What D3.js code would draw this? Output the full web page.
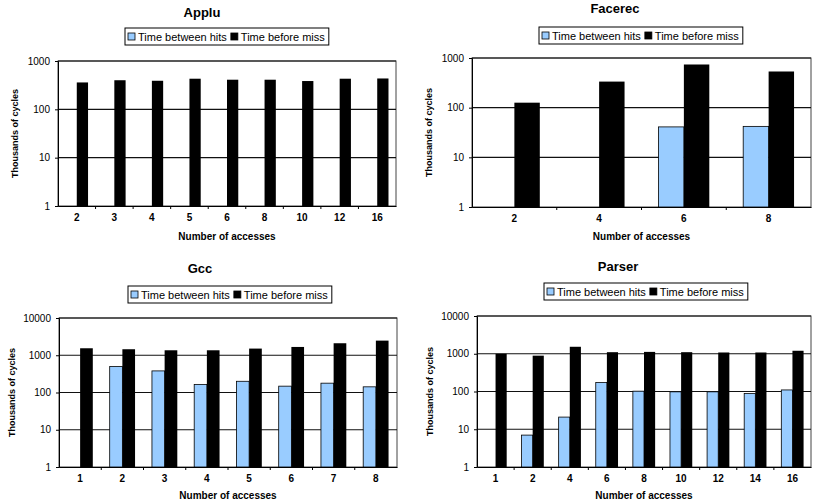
<!DOCTYPE html>
<html>
<head>
<meta charset="utf-8">
<script src="https://cdn.jsdelivr.net/npm/d3@7"></script>
<style>
  body { margin: 0; background: #fff; }
  svg { display: block; font-family: "Liberation Sans", Arial, sans-serif; }
</style>
</head>
<body>
<div id="chart"></div>
<script>
// data (thousands of cycles, log scale); null = no bar
var seriesNames = ["Time between hits", "Time before miss"]

var appluCats = ["2", "3", "4", "5", "6", "8", "10", "12", "16"]
var appluHits = [null, null, null, null, null, null, null, null, null]
var appluMiss = [360, 400, 390, 430, 410, 410, 385, 430, 435]

var facerecCats = ["2", "4", "6", "8"]
var facerecHits = [null, null, 41, 42]
var facerecMiss = [126, 335, 740, 535]

var gccCats = ["1", "2", "3", "4", "5", "6", "7", "8"]
var gccHits = [null, 500, 380, 165, 200, 148, 178, 142]
var gccMiss = [1540, 1450, 1360, 1360, 1510, 1670, 2100, 2470]

var parserCats = ["1", "2", "4", "6", "8", "10", "12", "14", "16"]
var parserHits = [null, 7, 21, 173, 102, 98, 98, 88, 110]
var parserMiss = [1000, 890, 1530, 1100, 1120, 1100, 1080, 1080, 1200]

var appluTicks = [1, 10, 100, 1000]
var facerecTicks = [1, 10, 100, 1000]
var gccTicks = [1, 10, 100, 1000, 10000]
var parserTicks = [1, 10, 100, 1000, 10000]

var hitColor = "#99ccff"
var missColor = "#000"

var svg = d3.select("#chart").append("svg")
    .attr("width", 813)
    .attr("height", 501)

function drawPanel(title, cats, hits, miss, ticks, L) {
    var g = svg.append("g")

    var x = d3.scaleBand()
        .domain(cats)
        .range([L.left, L.right])
        .padding(0)

    var x1 = d3.scaleBand()
        .domain(["hits", "miss"])
        .range([x.bandwidth() * 0.2, x.bandwidth() * 0.8])

    var y = d3.scaleLog()
        .domain([ticks[0], ticks[ticks.length - 1]])
        .range([L.bottom, L.top])

    // frame
    g.append("rect")
        .attr("x", L.left).attr("y", L.top)
        .attr("width", L.right - L.left).attr("height", L.bottom - L.top)
        .attr("fill", "none").attr("stroke", "#444").attr("stroke-width", 1)

    // gridlines
    g.selectAll(".grid")
        .data(ticks.slice(1))
        .enter().append("line")
        .attr("x1", L.left).attr("x2", L.right)
        .attr("y1", d => y(d)).attr("y2", d => y(d))
        .attr("stroke", "#111").attr("stroke-width", 1.2)

    var rows = cats.map((c, i) => ({ cat: c, hits: hits[i], miss: miss[i] }))

    var groups = g.selectAll(".cat")
        .data(rows)
        .enter().append("g")
        .attr("transform", d => `translate(${x(d.cat)},0)`)

    groups.filter(d => d.hits != null).append("rect")
        .attr("x", x1("hits"))
        .attr("y", d => y(d.hits))
        .attr("width", x1.bandwidth())
        .attr("height", d => y(ticks[0]) - y(d.hits))
        .attr("fill", hitColor)
        .attr("stroke", "#000").attr("stroke-width", 0.8)

    groups.filter(d => d.miss != null).append("rect")
        .attr("x", x1("miss"))
        .attr("y", d => y(d.miss))
        .attr("width", x1.bandwidth())
        .attr("height", d => y(ticks[0]) - y(d.miss))
        .attr("fill", missColor)

    // y axis
    var yAxis = g.append("g")
        .attr("transform", `translate(${L.left},0)`)
        .call(d3.axisLeft(y).tickValues(ticks).tickFormat(d3.format("d")).tickSize(3).tickPadding(5))
    yAxis.selectAll("text").attr("font-size", 10).attr("fill", "#000").attr("font-family", "Liberation Sans")
    yAxis.select(".domain").attr("stroke", "#000")

    // x axis, labels at centres, ticks at category boundaries
    var xAxis = g.append("g")
        .attr("transform", `translate(0,${L.bottom})`)
        .call(d3.axisBottom(x).tickSize(0).tickPadding(8))
    xAxis.selectAll("text").attr("font-size", 10).attr("font-weight", "bold").attr("fill", "#000").attr("font-family", "Liberation Sans")
    xAxis.select(".domain").attr("stroke", "#000").attr("stroke-width", 1.2)

    g.selectAll(".xtick")
        .data(cats.slice(1))
        .enter().append("line")
        .attr("x1", d => x(d)).attr("x2", d => x(d))
        .attr("y1", L.bottom).attr("y2", L.bottom + 3)
        .attr("stroke", "#000")

    // titles
    g.append("text")
        .attr("x", L.titleX).attr("y", L.titleY)
        .attr("text-anchor", "middle")
        .attr("font-size", 13).attr("font-weight", "bold")
        .text(title)

    g.append("text")
        .attr("x", (L.left + L.right) / 2).attr("y", L.xTitleY)
        .attr("text-anchor", "middle")
        .attr("font-size", 10).attr("font-weight", "bold")
        .text("Number of accesses")

    g.append("text")
        .attr("transform", `translate(${L.yTitleX},${(L.top + L.bottom) / 2}) rotate(-90)`)
        .attr("text-anchor", "middle")
        .attr("font-size", 9).attr("font-weight", "bold")
        .text("Thousands of cycles")

    // legend
    var lg = g.append("g").attr("transform", `translate(${L.legendX},${L.legendY})`)
    var box = lg.append("rect")
        .attr("height", 17).attr("fill", "#fff").attr("stroke", "#000").attr("stroke-width", 1)
    var cx = 3
    seriesNames.forEach((name, i) => {
        lg.append("rect")
            .attr("x", cx).attr("y", 5).attr("width", 7).attr("height", 7)
            .attr("fill", i == 0 ? hitColor : missColor)
            .attr("stroke", "#000").attr("stroke-width", 0.8)
        var t = lg.append("text")
            .attr("x", cx + 10).attr("y", 12.5)
            .attr("font-size", 11)
            .text(name)
        cx += 10 + t.node().getComputedTextLength() + 4
    })
    box.attr("width", cx)
}

drawPanel("Applu", appluCats, appluHits, appluMiss, appluTicks,
    { left: 58, right: 396, top: 61, bottom: 206, titleX: 202, titleY: 17, legendX: 125, legendY: 28, yTitleX: 18, xTitleY: 240 })
drawPanel("Facerec", facerecCats, facerecHits, facerecMiss, facerecTicks,
    { left: 472, right: 811, top: 58, bottom: 207, titleX: 615, titleY: 13, legendX: 539, legendY: 27, yTitleX: 432, xTitleY: 240 })
drawPanel("Gcc", gccCats, gccHits, gccMiss, gccTicks,
    { left: 59, right: 397, top: 318, bottom: 467, titleX: 200, titleY: 273, legendX: 128, legendY: 286, yTitleX: 15, xTitleY: 499 })
drawPanel("Parser", parserCats, parserHits, parserMiss, parserTicks,
    { left: 477, right: 811, top: 316, bottom: 467, titleX: 618, titleY: 271, legendX: 544, legendY: 283, yTitleX: 433, xTitleY: 499 })
</script>
</body>
</html>
